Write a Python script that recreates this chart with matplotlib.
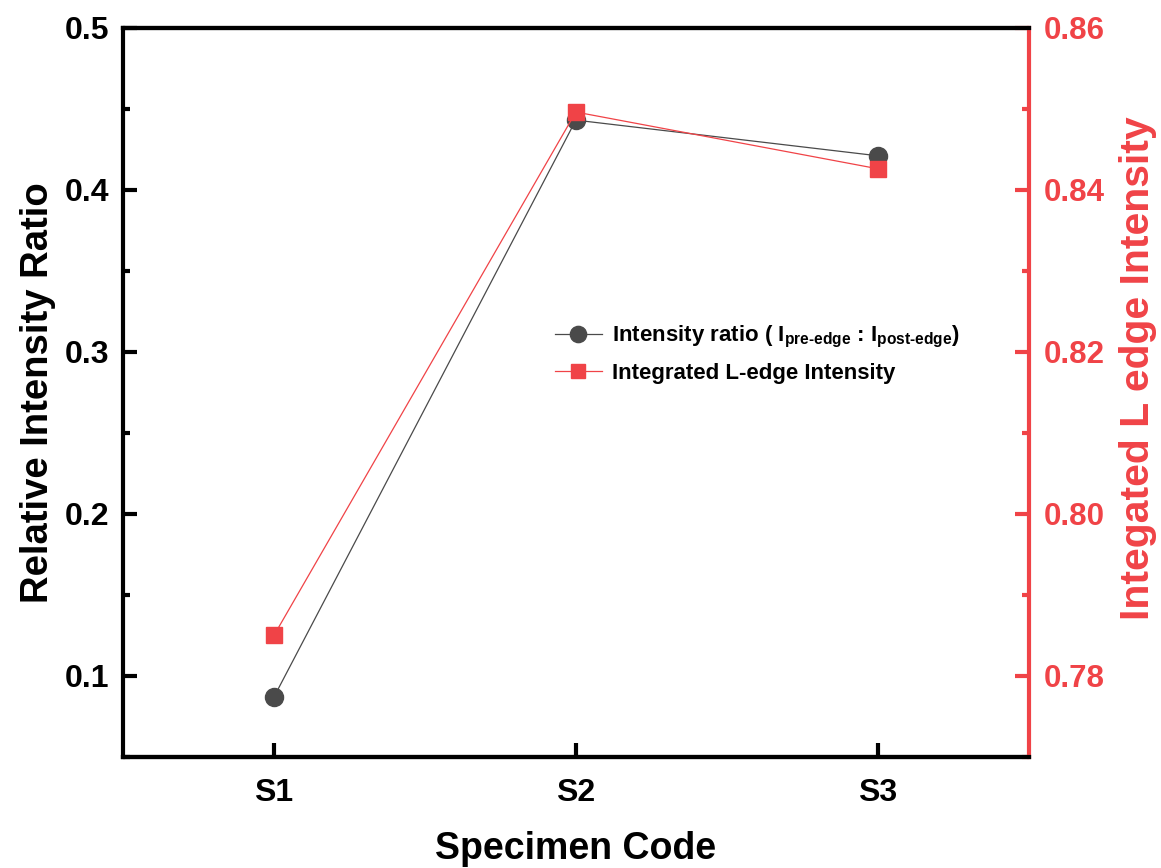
import matplotlib
matplotlib.use("Agg")
import matplotlib.pyplot as plt
from matplotlib.ticker import MultipleLocator

plt.rcParams['font.family'] = ['Liberation Sans', 'DejaVu Sans']
plt.rcParams['font.weight'] = 'bold'
plt.rcParams['mathtext.fontset'] = 'custom'
plt.rcParams['mathtext.rm'] = 'Liberation Sans:bold'
plt.rcParams['mathtext.it'] = 'Liberation Sans:bold'
plt.rcParams['mathtext.bf'] = 'Liberation Sans:bold'

categories = ['S1', 'S2', 'S3']
ratio = [0.087, 0.443, 0.421]
integrated = [0.785, 0.8496, 0.8426]

RED = '#f04347'
GRAY = '#4a4a4a'

fig = plt.figure(figsize=(11.61, 8.68), dpi=100)
ax = fig.add_axes([0.106, 0.128, 0.780, 0.840])
ax2 = ax.twinx()

x = list(range(1, len(categories) + 1))
l1, = ax.plot(x, ratio, color=GRAY, lw=0.9, marker='o', ms=13,
              mfc=GRAY, mec=GRAY, zorder=3,
              label=r'Intensity ratio ( I$_{\text{pre-edge}}$ : I$_{\text{post-edge}}$)')
l2, = ax2.plot(x, integrated, color=RED, lw=0.9, marker='s', ms=11.5,
               mfc=RED, mec=RED, zorder=3, label='Integrated L-edge Intensity')

ax.set_xlim(0.5, 3.5)
ax.set_ylim(0.05, 0.5)
ax2.set_ylim(0.77, 0.86)

ax.set_xticks(x)
ax.set_xticklabels(categories)
ax.yaxis.set_minor_locator(MultipleLocator(0.05))
ax2.yaxis.set_minor_locator(MultipleLocator(0.01))
ax.set_yticks([0.1, 0.2, 0.3, 0.4, 0.5])
ax2.set_yticks([0.78, 0.80, 0.82, 0.84, 0.86])
ax2.set_yticklabels(['0.78', '0.80', '0.82', '0.84', '0.86'])

for s in ['left', 'bottom', 'top']:
    ax.spines[s].set_linewidth(3)
    ax2.spines[s].set_linewidth(3)
ax.spines['right'].set_visible(False)
ax2.spines['left'].set_visible(False)
ax2.spines['right'].set_linewidth(3)
ax2.spines['right'].set_color(RED)

ax.tick_params(axis='both', which='major', direction='in', length=10, width=3,
               labelsize=23, pad=10)
ax.tick_params(axis='y', which='minor', direction='in', length=5, width=3)
ax.tick_params(axis='x', which='minor', bottom=False)
ax.tick_params(axis='x', pad=15)
ax2.tick_params(axis='y', which='major', direction='in', length=10, width=3,
                labelsize=22.5, colors=RED, pad=11)
ax2.tick_params(axis='y', which='minor', direction='in', length=5, width=3, colors=RED)

ax.set_xlabel('Specimen Code', fontsize=27, fontweight='bold', labelpad=17)
ax.set_ylabel('Relative Intensity Ratio', fontsize=27.5, fontweight='bold', labelpad=6)
ax2.set_ylabel('Integated L edge Intensity', fontsize=29.5, fontweight='bold',
               color=RED, labelpad=12)
ax2.yaxis.set_label_coords(1.100, 0.533)

ax.legend(handles=[l1, l2], loc='upper left', bbox_to_anchor=(0.477, 0.594),
          frameon=False, fontsize=16, handlelength=2.1, handletextpad=0.45,
          labelspacing=0.6, markerscale=0.9, borderpad=0, borderaxespad=0)

fig.savefig('out.png', dpi=100)
